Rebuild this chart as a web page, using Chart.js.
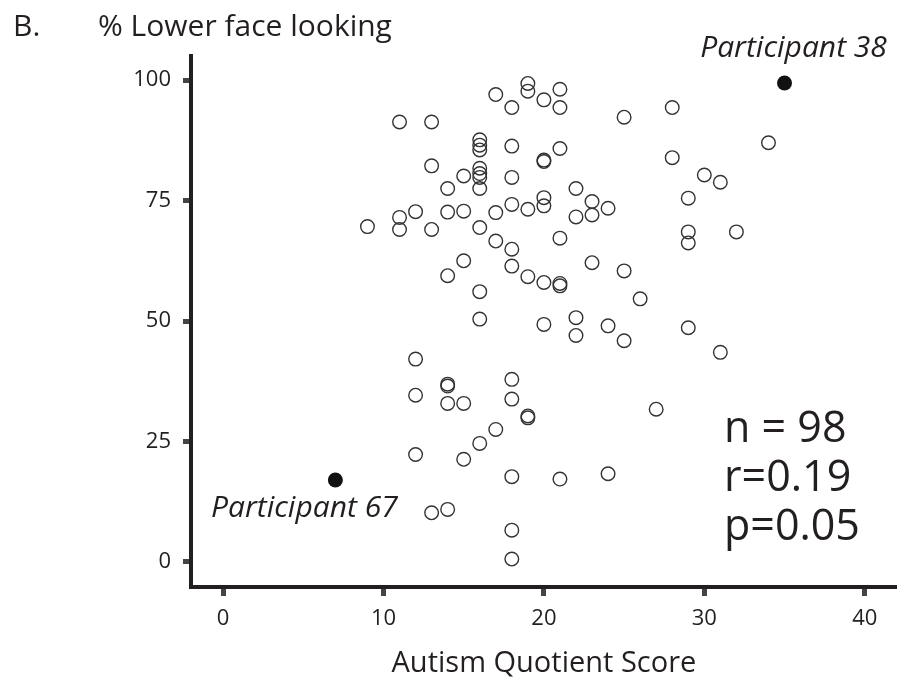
<!DOCTYPE html>
<html>
<head>
<meta charset="utf-8">
<script src="https://cdn.jsdelivr.net/npm/chart.js@4.4.1/dist/chart.umd.min.js"></script>
<style>
  body { margin: 0; background: #fff; }
</style>
</head>
<body>
<canvas id="myChart" width="905" height="687"></canvas>
<script>
// AQ score and % lower face looking for each participant (open circles)
var aqScores = [19, 19, 21, 17, 20, 18, 21, 11, 13, 25,
  16, 16, 16, 18, 21, 20, 20, 13, 16, 16,
  16, 15, 18, 14, 16, 22, 20, 23, 12, 11,
  14, 15, 17, 18, 19, 20, 24, 22, 23, 9,
  11, 13, 16, 17, 18, 21, 15, 14, 18, 23,
  25, 19, 20, 21, 21, 16, 16, 20, 22, 22,
  24, 25, 12, 14, 14, 12, 14, 15, 18, 18,
  19, 19, 17, 16, 15, 12, 18, 21, 24, 13,
  14, 18, 18, 28, 34, 28, 30, 31, 29, 29,
  29, 32, 26, 29, 31, 27];
var lowerFace = [99.3, 97.7, 98.1, 97.0, 95.9, 94.3, 94.3, 91.3, 91.3, 92.3,
  87.6, 86.5, 85.5, 86.3, 85.8, 83.4, 83.1, 82.2, 81.7, 80.6,
  79.8, 80.1, 79.8, 77.5, 77.5, 77.5, 75.6, 74.8, 72.7, 71.5,
  72.6, 72.8, 72.5, 74.2, 73.2, 73.9, 73.4, 71.6, 72.0, 69.6,
  69.0, 69.0, 69.4, 66.6, 64.9, 67.2, 62.5, 59.4, 61.4, 62.1,
  60.4, 59.2, 58.0, 57.8, 57.3, 56.1, 50.4, 49.3, 50.7, 47.0,
  49.0, 45.9, 42.1, 36.9, 36.5, 34.6, 32.9, 32.9, 37.9, 33.8,
  30.3, 29.9, 27.5, 24.6, 21.3, 22.3, 17.7, 17.2, 18.3, 10.2,
  10.9, 6.6, 0.6, 94.3, 87.0, 83.9, 80.3, 78.8, 75.5, 68.5,
  66.2, 68.5, 54.6, 48.6, 43.5, 31.7];

// the two participants picked out in black
var highlightNames = ["Participant 67", "Participant 38"];
var highlightAq = [7, 35];
var highlightFace = [17.0, 99.4];

var xTicks = [0, 10, 20, 30, 40];
var yTicks = [0, 25, 50, 75, 100];
var statLines = ["n = 98", "r=0.19", "p=0.05"];

var ink = "#231f20";
var fontFamily = "'Open Sans', sans-serif";

function toPoints(xs, ys) {
  return xs.map(function (x, i) { return { x: x, y: ys[i] }; });
}

var textPlugin = {
  id: "texts",
  afterDraw: function (chart) {
    var ctx = chart.ctx;
    var xs = chart.scales.x, ys = chart.scales.y;
    ctx.save();
    ctx.fillStyle = ink;
    ctx.textBaseline = "alphabetic";
    ctx.textAlign = "left";
    ctx.font = "30px " + fontFamily;
    ctx.fillText("B.", 13, 36);
    ctx.fillText("% Lower face looking", 98, 36);

    ctx.font = "43px " + fontFamily;
    statLines.forEach(function (s, i) {
      ctx.fillText(s, 724, 442 + i * 49);
    });

    // participant labels sit next to their dots
    ctx.font = "italic 30px " + fontFamily;
    ctx.textAlign = "center";
    var px = xs.getPixelForValue(highlightAq[0]);
    var py = ys.getPixelForValue(highlightFace[0]);
    ctx.fillText(highlightNames[0], px - 31, py + 37);
    px = xs.getPixelForValue(highlightAq[1]);
    py = ys.getPixelForValue(highlightFace[1]);
    ctx.fillText(highlightNames[1], px + 9, py - 26);
    ctx.restore();
  }
};

new Chart("myChart", {
  type: "scatter",
  data: {
    datasets: [{
      data: toPoints(aqScores, lowerFace),
      pointRadius: 6.8,
      pointBorderWidth: 1.4,
      pointBorderColor: "#333",
      pointBackgroundColor: "rgba(255,255,255,0)"
    }, {
      data: toPoints(highlightAq, highlightFace),
      pointRadius: 7.5,
      pointBorderWidth: 0,
      pointBorderColor: "#111",
      pointBackgroundColor: "#111"
    }]
  },
  options: {
    responsive: false,
    animation: false,
    devicePixelRatio: 1,
    layout: { padding: { top: 56, right: 0, left: 0, bottom: 0 } },
    plugins: {
      legend: { display: false },
      tooltip: { enabled: false }
    },
    scales: {
      x: {
        type: "linear",
        position: "bottom",
        min: -2,
        max: 42,
        afterBuildTicks: function (s) { s.ticks = xTicks.map(function (v) { return { value: v }; }); },
        afterFit: function (s) { s.height = 100; },
        border: { color: ink, width: 4 },
        grid: { drawOnChartArea: false, tickLength: 9, tickWidth: 5, tickColor: "#444" },
        ticks: { color: ink, padding: 10, font: { family: fontFamily, size: 22 } },
        title: {
          display: true,
          text: "Autism Quotient Score",
          color: ink,
          font: { family: fontFamily, size: 29 },
          padding: { top: 0, bottom: 6 }
        }
      },
      y: {
        type: "linear",
        min: -5.2,
        max: 105,
        afterBuildTicks: function (s) { s.ticks = yTicks.map(function (v) { return { value: v }; }); },
        afterFit: function (s) { s.width = 191; },
        border: { color: ink, width: 4 },
        grid: { drawOnChartArea: false, tickLength: 8, tickWidth: 5, tickColor: "#444" },
        ticks: { color: ink, padding: 12, font: { family: fontFamily, size: 22 } }
      }
    }
  },
  plugins: [textPlugin]
});
</script>
</body>
</html>
